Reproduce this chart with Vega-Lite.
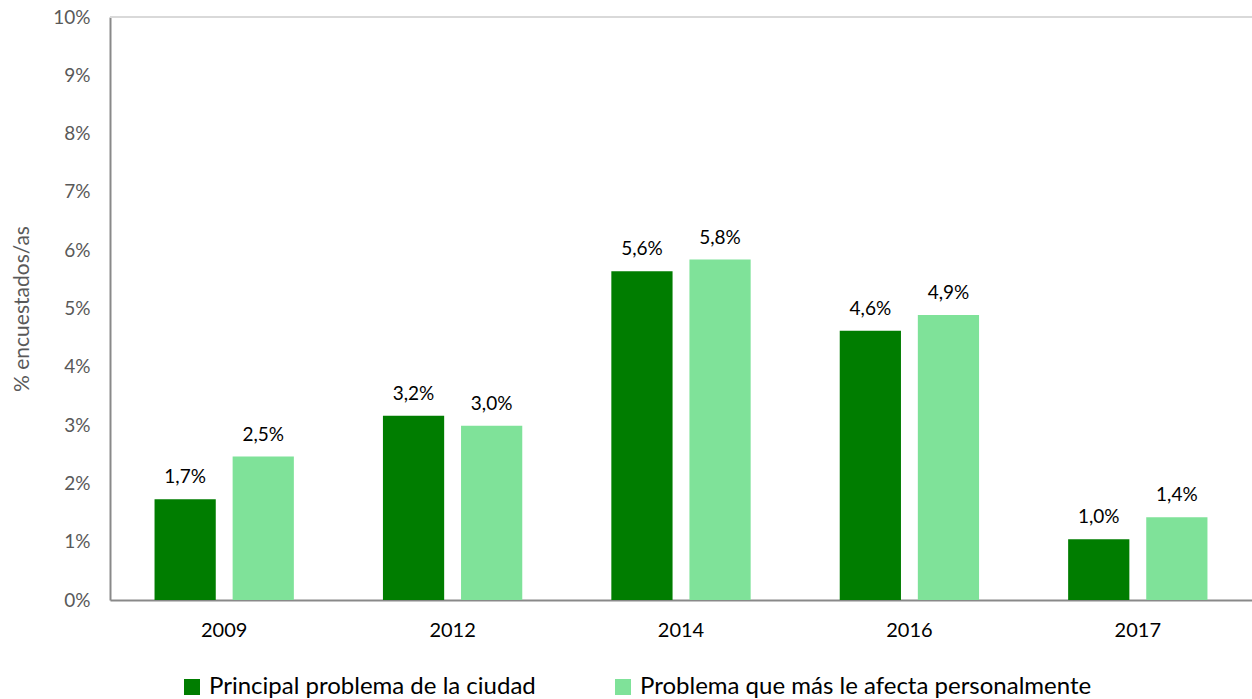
{
  "$schema": "https://vega.github.io/schema/vega-lite/v6.json",
  "autosize": "none",
  "width": 1142,
  "height": 583,
  "padding": {"left": 110, "top": 17, "right": 0, "bottom": 99},
  "background": "white",
  "config": {
    "locale": {"number": {"decimal": ",", "thousands": ".", "grouping": [3], "currency": ["", " €"]}},
    "font": "Lato",
    "view": {"stroke": null}
  },
  "data": {
    "values": [
      {"year": "2009", "serie": "Principal problema de la ciudad", "value": 0.0173},
      {"year": "2009", "serie": "Problema que más le afecta personalmente", "value": 0.0246},
      {"year": "2012", "serie": "Principal problema de la ciudad", "value": 0.0316},
      {"year": "2012", "serie": "Problema que más le afecta personalmente", "value": 0.0299},
      {"year": "2014", "serie": "Principal problema de la ciudad", "value": 0.0564},
      {"year": "2014", "serie": "Problema que más le afecta personalmente", "value": 0.0584},
      {"year": "2016", "serie": "Principal problema de la ciudad", "value": 0.0462},
      {"year": "2016", "serie": "Problema que más le afecta personalmente", "value": 0.0489},
      {"year": "2017", "serie": "Principal problema de la ciudad", "value": 0.0104},
      {"year": "2017", "serie": "Problema que más le afecta personalmente", "value": 0.0142}
    ]
  },
  "encoding": {
    "x": {
      "field": "year", "type": "nominal", "title": null,
      "scale": {"paddingInner": 0.39, "paddingOuter": 0.195},
      "axis": {"labelAngle": 0, "labelFontSize": 20, "labelColor": "#000000", "labelPadding": 20, "ticks": false, "domainColor": "#898989", "domainWidth": 2}
    },
    "xOffset": {"field": "serie", "type": "nominal", "scale": {"paddingInner": 0.216, "domain": ["Principal problema de la ciudad", "Problema que más le afecta personalmente"]}},
    "y": {
      "field": "value", "type": "quantitative", "title": "% encuestados/as",
      "scale": {"domain": [0, 0.1]},
      "axis": {"format": ".0%", "values": [0,0.01,0.02,0.03,0.04,0.05,0.06,0.07,0.08,0.09,0.1], "labelOverlap": false, "grid": false, "ticks": false, "labelFontSize": 19, "labelColor": "#595959", "labelPadding": 20, "domainColor": "#898989", "domainWidth": 2, "titleFontSize": 21, "titleFontWeight": "normal", "titleColor": "#595959", "titlePadding": 20}
    }
  },
  "layer": [
    {
      "mark": {"type": "bar"},
      "encoding": {
        "color": {
          "field": "serie", "type": "nominal", "title": null,
          "scale": {"domain": ["Principal problema de la ciudad", "Problema que más le afecta personalmente"], "range": ["#007d00", "#7fe299"]},
          "legend": {"orient": "none", "legendX": 70, "legendY": 658, "direction": "horizontal", "symbolType": "square", "symbolSize": 256, "symbolStrokeWidth": 0, "labelFontSize": 24, "labelLimit": 0, "labelColor": "#000000", "columnPadding": 75, "labelOffset": 5}
        }
      }
    },
    {
      "mark": {"type": "text", "baseline": "bottom", "dy": -12, "fontSize": 19, "color": "#000000"},
      "encoding": {"text": {"field": "value", "type": "quantitative", "format": ".1%"}}
    },
    {
      "mark": {"type": "rule", "color": "#d9d9d9", "strokeWidth": 2},
      "encoding": {"y": {"datum": 0.1}, "x": null, "xOffset": null}
    }
  ]
}
